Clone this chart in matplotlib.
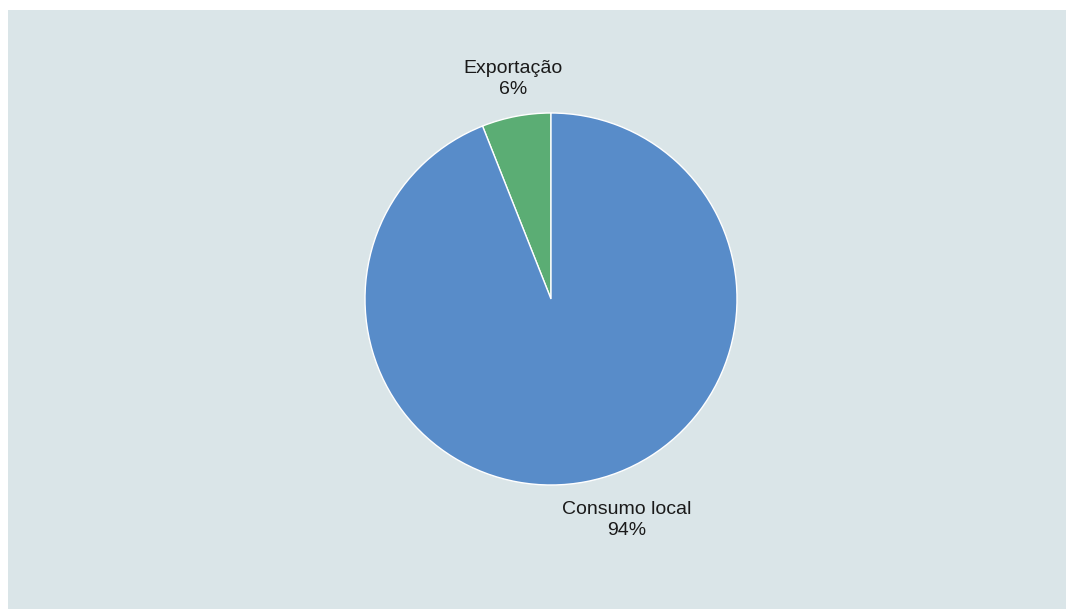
import matplotlib
matplotlib.use("Agg")
import matplotlib.pyplot as plt
from matplotlib.patches import Rectangle
import numpy as np

categories = ["Exportação", "Consumo local"]
values = [6, 94]
colors = ["#5bad74", "#588cc9"]

W, H = 1066, 609
fig = plt.figure(figsize=(W / 100, H / 100), dpi=100, facecolor="white")
plt.rcParams['font.family'] = ['Liberation Sans', 'DejaVu Sans']

fig.patches.append(Rectangle((8 / W, 0), 1 - 8 / W, 1 - 10 / H, transform=fig.transFigure,
                             facecolor="#dae5e8", edgecolor="none", zorder=-10))

cx, cy, r = 551, 299, 186
ax = fig.add_axes([(cx - r) / W, (H - cy - r) / H, 2 * r / W, 2 * r / H])
ax.set_zorder(5)
ax.set_facecolor("none")
wedges, _ = ax.pie(values, colors=colors, startangle=90, counterclock=True,
                   wedgeprops=dict(edgecolor="white", linewidth=1.0))
ax.set_xlim(-1, 1)
ax.set_ylim(-1, 1)
ax.axis("off")

label_pos = [(-38 / r, 220 / r), (76 / r, -221 / r)]
for (lx, ly), cat, v in zip(label_pos, categories, values):
    ax.text(lx, ly, f"{cat}\n{v}%", ha="center", va="center", fontsize=14,
            color="#1a1a1a", linespacing=1.25, clip_on=False)

fig.savefig("out.png", dpi=100, facecolor="white")
